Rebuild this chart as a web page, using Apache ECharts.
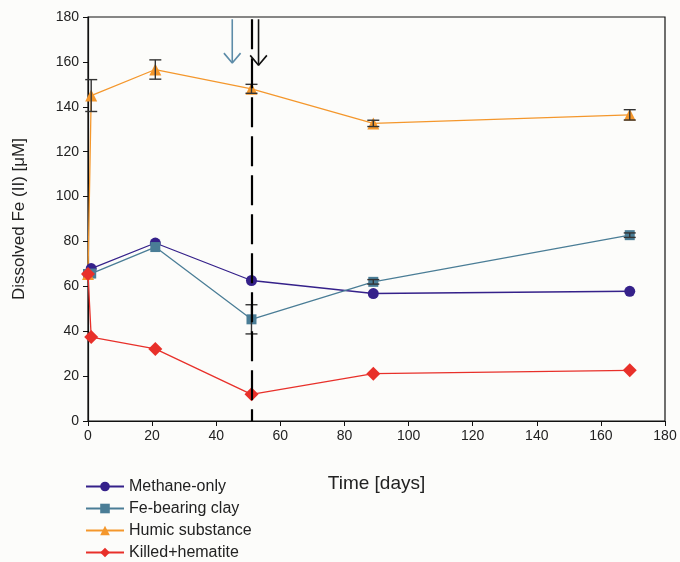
<!DOCTYPE html>
<html><head><meta charset="utf-8">
<script src="https://cdn.jsdelivr.net/npm/echarts@6/dist/echarts.min.js"></script>
<style>html,body{margin:0;padding:0;background:#fcfcfa;}#c{width:680px;height:562px;}</style>
</head><body><div id="c"></div>
<script>
const days = [0, 1, 21, 51, 89, 169];
const methane = [65.5, 67.9, 79.3, 62.6, 56.8, 57.8];
const feClay = [65.5, 65.7, 77.5, 45.3, 62.0, 82.8];
const humic = [65.5, 145.0, 156.6, 148.0, 132.6, 136.4];
const killed = [65.5, 37.4, 32.1, 11.9, 21.1, 22.6];
const humicErr = [0, 7.1, 4.3, 2.0, 1.4, 2.3];
const feClayErr = [0, 0, 0, 6.5, 1.0, 1.0];
const eventDay = 51;
const blueArrow = {x: 45, y0: 179, y1: 159.5};
const blackArrow = {x: 53.2, y0: 179, y1: 158.5};
const xTicks = {min: 0, max: 180, interval: 20};
const yTicks = {min: 0, max: 180, interval: 20};

const FONT = 'Liberation Sans';
const pairs = (ys) => days.map((d, i) => [d, ys[i]]);
const errData = (ys, es) => days.map((d, i) => [d, ys[i] - es[i], ys[i] + es[i]]).filter((r, i) => es[i] > 0);

function errRender(params, api) {
  const x = api.value(0);
  const lo = api.coord([x, api.value(1)]);
  const hi = api.coord([x, api.value(2)]);
  const w = 6;
  const st = {stroke: '#333', lineWidth: 1.4};
  return {type: 'group', children: [
    {type: 'line', shape: {x1: lo[0], y1: lo[1], x2: hi[0], y2: hi[1]}, style: st},
    {type: 'line', shape: {x1: lo[0] - w, y1: lo[1], x2: lo[0] + w, y2: lo[1]}, style: st},
    {type: 'line', shape: {x1: hi[0] - w, y1: hi[1], x2: hi[0] + w, y2: hi[1]}, style: st}
  ]};
}

function arrowSeries(a, color) {
  const hw = 2.6, hh = 4.4;
  return [
    {type: 'line', data: [[a.x, a.y0], [a.x, a.y1]], symbol: 'none', silent: true,
     lineStyle: {color: color, width: 1.6}, z: 5},
    {type: 'line', data: [[a.x - hw, a.y1 + hh], [a.x, a.y1], [a.x + hw, a.y1 + hh]], symbol: 'none', silent: true,
     lineStyle: {color: color, width: 1.6}, z: 5}
  ];
}

const chart = echarts.init(document.getElementById('c'));
chart.setOption({
  backgroundColor: '#fcfcfa',
  animation: false,
  grid: {left: 88, right: 15, top: 17, bottom: 141, show: true, borderColor: '#111', borderWidth: 1.2},
  xAxis: {
    type: 'value', min: xTicks.min, max: xTicks.max, interval: xTicks.interval,
    name: 'Time [days]', nameLocation: 'middle', nameGap: 53,
    nameTextStyle: {fontFamily: FONT, fontSize: 19, color: '#222'},
    axisLine: {lineStyle: {color: '#111', width: 1.2}},
    axisTick: {show: true, length: 5, lineStyle: {color: '#111'}},
    axisLabel: {fontFamily: FONT, fontSize: 14, color: '#222', margin: 8},
    splitLine: {show: false}
  },
  yAxis: {
    type: 'value', min: yTicks.min, max: yTicks.max, interval: yTicks.interval,
    name: 'Dissolved Fe (II) [μM]', nameLocation: 'middle', nameGap: 60,
    nameTextStyle: {fontFamily: FONT, fontSize: 17, color: '#222'},
    axisLine: {show: true, lineStyle: {color: '#111', width: 1.2}},
    axisTick: {show: true, length: 5, lineStyle: {color: '#111'}},
    axisLabel: {fontFamily: FONT, fontSize: 14, color: '#222', margin: 9},
    splitLine: {show: false}
  },
  legend: {
    orient: 'vertical', left: 85, top: 478, padding: 0, itemGap: 5, itemWidth: 38, itemHeight: 12,
    textStyle: {fontFamily: FONT, fontSize: 16, lineHeight: 17, color: '#222'},
    data: ['Methane-only', 'Fe-bearing clay', 'Humic substance', 'Killed+hematite']
  },
  series: [
    {name: 'Methane-only', type: 'line', data: pairs(methane), symbol: 'circle', symbolSize: 11,
     itemStyle: {color: '#35218a'}, lineStyle: {color: '#35218a', width: 1.3}, z: 3,
     markLine: {silent: true, symbol: 'none', label: {show: false},
       lineStyle: {color: '#000', width: 2.2, type: [30, 9]},
       data: [[{coord: [eventDay, 179]}, {coord: [eventDay, 0]}]]}},
    {name: 'Fe-bearing clay', type: 'line', data: pairs(feClay), symbol: 'rect', symbolSize: 10,
     itemStyle: {color: '#4a7d96'}, lineStyle: {color: '#4a7d96', width: 1.3}, z: 3},
    {name: 'Humic substance', type: 'line', data: pairs(humic), symbol: 'triangle', symbolSize: 12,
     itemStyle: {color: '#f4972c'}, lineStyle: {color: '#f4972c', width: 1.3}, z: 3},
    {name: 'Killed+hematite', type: 'line', data: pairs(killed), symbol: 'diamond', symbolSize: 14,
     itemStyle: {color: '#e8302a'}, lineStyle: {color: '#e8302a', width: 1.3}, z: 3},
    {type: 'custom', renderItem: errRender, data: errData(humic, humicErr), z: 4, silent: true},
    {type: 'custom', renderItem: errRender, data: errData(feClay, feClayErr), z: 4, silent: true},
    ...arrowSeries(blueArrow, '#5d8ca8'),
    ...arrowSeries(blackArrow, '#111')
  ]
});
</script></body></html>
